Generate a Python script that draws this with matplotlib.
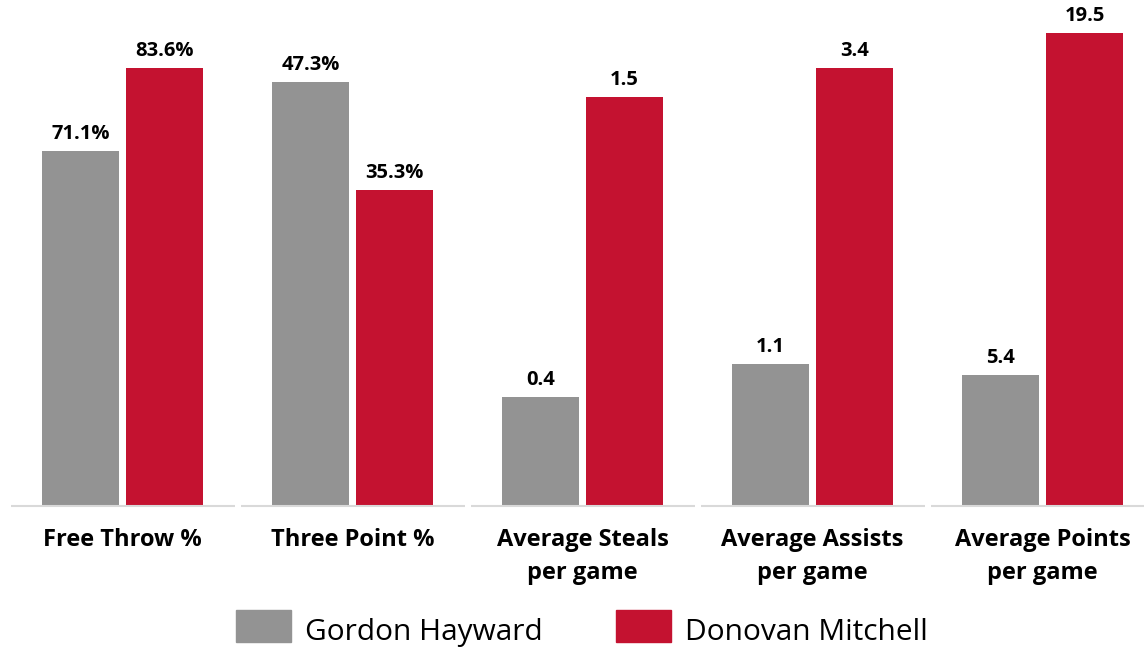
import numpy as np
import matplotlib.pyplot as plt
from matplotlib.patches import Rectangle

categories = ["Free Throw %", "Three Point %", "Average Steals\nper game",
              "Average Assists\nper game", "Average Points\nper game"]
hayward = [71.1, 47.3, 0.4, 1.1, 5.4]
mitchell = [83.6, 35.3, 1.5, 3.4, 19.5]
value_fmt = ["{:.1f}%", "{:.1f}%", "{:.1f}", "{:.1f}", "{:.1f}"]
players = ["Gordon Hayward", "Donovan Mitchell"]

# every stat group gets its own vertical scale (lo, hi)
scale_lo = [17.6, 0.0, 0.0, 0.0, 0.0]
scale_hi = [93.8, 56.5, 1.856, 3.93, 20.86]

GREY = "#939393"
RED = "#c41230"
FONT = "Open Sans"

W, H = 1144, 648
fig = plt.figure(figsize=(W / 100, H / 100), dpi=100)
base_px = 506
ax = fig.add_axes([0, (H - base_px) / H, 1, base_px / H])

spacing = 230.0
first_center = 122.5
ax.set_xlim(-first_center / spacing, (W - first_center) / spacing)
ax.set_ylim(0, 1)
ax.axis("off")

lo = np.array(scale_lo)
hi = np.array(scale_hi)
h_norm = (np.array(hayward) - lo) / (hi - lo)
m_norm = (np.array(mitchell) - lo) / (hi - lo)

x = np.arange(len(categories))
bw = 77 / spacing
off = 42 / spacing
bars_h = ax.bar(x - off, h_norm, width=bw, color=GREY)
bars_m = ax.bar(x + off, m_norm, width=bw, color=RED)

for bars, vals in ((bars_h, hayward), (bars_m, mitchell)):
    for b, v, fmt in zip(bars, vals, value_fmt):
        ax.annotate(fmt.format(v), (b.get_x() + b.get_width() / 2, b.get_height()),
                    xytext=(0, 5), textcoords="offset points",
                    ha="center", va="bottom", fontsize=14.5,
                    fontweight="bold", family=FONT, color="black")

# baseline segments, one per group
for i in x:
    ax.plot([i - 112 / spacing, i + 112 / spacing], [0, 0], color="#d9d9d9",
            lw=1.5, solid_capstyle="butt", clip_on=False)

# category labels under the baseline
for i, cat in enumerate(categories):
    xc = (first_center + spacing * i) / W
    for j, line in enumerate(cat.split("\n")):
        fig.text(xc, 1 - (546 + 33 * j) / H, line, ha="center", va="baseline",
                 fontsize=17, fontweight="bold", family=FONT, color="black")

# legend
legend_items = [(236, GREY, players[0]), (616, RED, players[1])]
for x0, col, name in legend_items:
    fig.patches.append(Rectangle((x0 / W, 1 - 642 / H), 55 / W, 32 / H,
                                 transform=fig.transFigure, color=col))
    fig.text((x0 + 69) / W, 1 - 640 / H, name, ha="left", va="baseline",
             fontsize=21.5, family=FONT, color="black")

fig.savefig("out.png", dpi=100, facecolor="white")
